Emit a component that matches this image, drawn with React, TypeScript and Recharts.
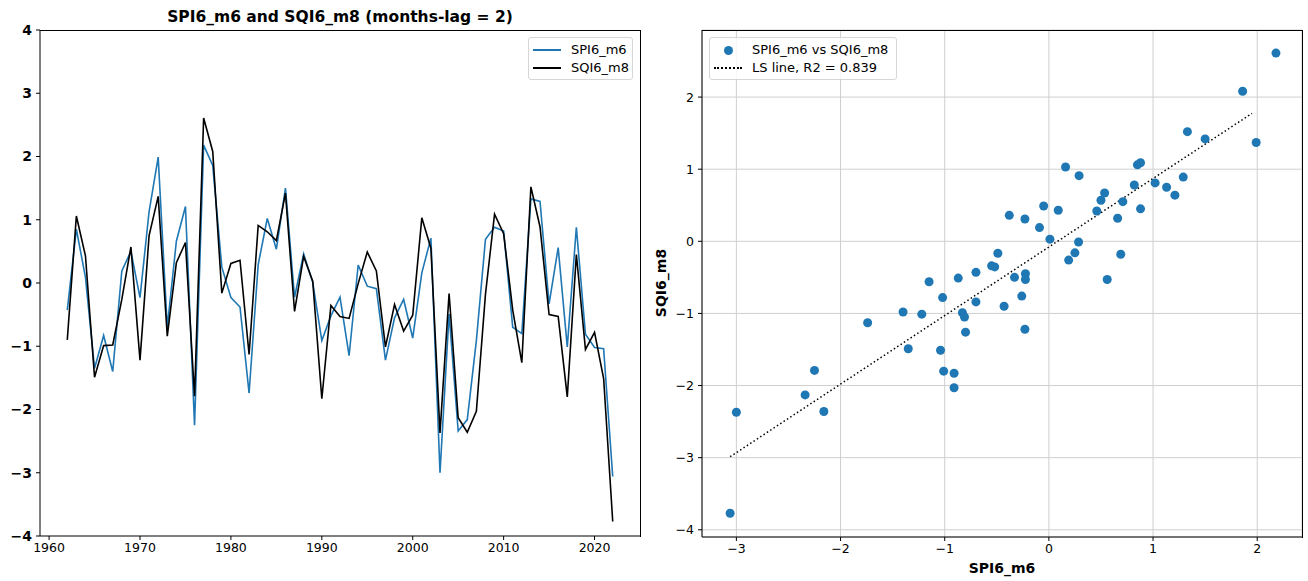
import React from 'react';
import {
  LineChart, Line, ScatterChart, Scatter, XAxis, YAxis, CartesianGrid,
} from 'recharts';

const years = [
  1962, 1963, 1964, 1965, 1966, 1967, 1968, 1969, 1970, 1971,
  1972, 1973, 1974, 1975, 1976, 1977, 1978, 1979, 1980, 1981,
  1982, 1983, 1984, 1985, 1986, 1987, 1988, 1989, 1990, 1991,
  1992, 1993, 1994, 1995, 1996, 1997, 1998, 1999, 2000, 2001,
  2002, 2003, 2004, 2005, 2006, 2007, 2008, 2009, 2010, 2011,
  2012, 2013, 2014, 2015, 2016, 2017, 2018, 2019, 2020, 2021,
  2022,
];

const spi6m6 = [
  -0.43, 0.85, 0.09, -1.35, -0.83, -1.4, 0.19, 0.5, -0.23, 1.13,
  1.99, -0.7, 0.66, 1.21, -2.25, 2.18, 1.86, 0.25, -0.23, -0.38,
  -1.74, 0.29, 1.02, 0.535, 1.5, -0.225, 0.46, 0.01, -0.91, -0.52,
  -0.225, -1.15, 0.285, -0.05, -0.09, -1.22, -0.55, -0.26, -0.87, 0.16,
  0.71, -3.0, -0.49, -2.34, -2.16, -0.91, 0.69, 0.88, 0.82, -0.7,
  -0.8, 1.33, 1.29, -0.33, 0.56, -1.01, 0.88, -0.81, -1.02, -1.04,
  -3.06,
];

const sqi6m8 = [
  -0.9, 1.06, 0.43, -1.49, -0.99, -0.98, -0.26, 0.57, -1.22, 0.75,
  1.37, -0.84, 0.32, 0.64, -1.79, 2.61, 2.08, -0.16, 0.31, 0.36,
  -1.13, 0.91, 0.81, 0.67, 1.42, -0.45, 0.42, 0.03, -1.83, -0.355,
  -0.53, -0.56, -0.01, 0.49, 0.19, -1.01, -0.34, -0.76, -0.51, 1.03,
  0.55, -2.37, -0.165, -2.13, -2.36, -2.03, -0.18, 1.09, 0.78, -0.43,
  -1.26, 1.52, 0.89, -0.5, -0.53, -1.8, 0.45, -1.05, -0.78, -1.51,
  -3.77,
];

const yearTicks = [1960, 1970, 1980, 1990, 2000, 2010, 2020];
const leftYTicks = [-4, -3, -2, -1, 0, 1, 2, 3, 4];
const rightXTicks = [-3, -2, -1, 0, 1, 2];
const rightYTicks = [-4, -3, -2, -1, 0, 1, 2];
const lsX = [-3.06, 1.95];
const r2Label = '0.839';

const BLUE = '#1f77b4';
const FONT = '"DejaVu Sans", sans-serif';

const seriesData = years.map((year, i) => ({ year, spi: spi6m6[i], sqi: sqi6m8[i] }));
const scatterData = years.map((_, i) => ({ x: spi6m6[i], y: sqi6m8[i] }));

// least squares fit of SQI on SPI
const n = spi6m6.length;
const mx = spi6m6.reduce((a, b) => a + b, 0) / n;
const my = sqi6m8.reduce((a, b) => a + b, 0) / n;
let sxy = 0;
let sxx = 0;
for (let i = 0; i < n; i++) {
  sxy += (spi6m6[i] - mx) * (sqi6m8[i] - my);
  sxx += (spi6m6[i] - mx) ** 2;
}
const slope = sxy / sxx;
const intercept = my - slope * mx;
const lsData = lsX.map((x) => ({ x, y: intercept + slope * x }));

const minus = (v: number) => String(v).replace('-', '\u2212');

const LegendBox: React.FC<{ left: number; top: number; width: number; children: React.ReactNode }> = ({ left, top, width, children }) => (
  <div
    style={{
      position: 'absolute', left, top, width, height: 43,
      border: '1px solid #d6d6d6', borderRadius: 3, background: 'rgba(255,255,255,0.8)',
      boxSizing: 'border-box', fontSize: 13, color: '#000',
    }}
  >
    {children}
  </div>
);

const Row: React.FC<{ top: number; marker: React.ReactNode; textLeft: number; label: string }> = ({ top, marker, textLeft, label }) => (
  <div style={{ position: 'absolute', left: 0, top, height: 18, width: '100%' }}>
    {marker}
    <span style={{ position: 'absolute', left: textLeft, top: 1, whiteSpace: 'nowrap' }}>{label}</span>
  </div>
);

// top and right spines of a plot box
const Frame: React.FC<{ left: number; top: number; width: number; height: number }> = ({ left, top, width, height }) => (
  <div
    style={{
      position: 'absolute', left, top, width, height, boxSizing: 'border-box',
      borderTop: '1px solid #000', borderRight: '1px solid #000', pointerEvents: 'none',
    }}
  />
);

const App: React.FC = () => {
  return (
    <div style={{ position: 'absolute', left: 0, top: 0, width: 1308, height: 581, background: '#fff', fontFamily: FONT }}>
      <div style={{ position: 'absolute', left: 40, top: 8, width: 600, textAlign: 'center', fontWeight: 'bold', fontSize: 15.5 }}>
        SPI6_m6 and SQI6_m8 (months-lag = 2)
      </div>

      <div style={{ position: 'absolute', left: 0, top: 0 }}>
        <LineChart width={650} height={581} data={seriesData} margin={{ top: 30, right: 10, bottom: 0, left: 0 }}>
          <XAxis
            dataKey="year" type="number" domain={[1959, 2025]} ticks={yearTicks}
            height={45} tickSize={4} tickMargin={3} stroke="#000"
            tick={{ fill: '#000', fontSize: 12.5, fontFamily: FONT }}
          />
          <YAxis
            type="number" domain={[-4, 4]} ticks={leftYTicks} width={40} tickSize={4} tickMargin={4}
            stroke="#000" tickFormatter={minus}
            tick={{ fill: '#000', fontSize: 14, fontWeight: 'bold', fontFamily: FONT }}
          />
          <Line dataKey="spi" stroke={BLUE} strokeWidth={1.6} dot={false} isAnimationActive={false} />
          <Line dataKey="sqi" stroke="#000" strokeWidth={1.6} dot={false} isAnimationActive={false} />
        </LineChart>
      </div>
      <Frame left={40} top={30} width={601} height={507} />
      <LegendBox left={528} top={37} width={105}>
        <Row top={3} marker={<div style={{ position: 'absolute', left: 4, top: 8, width: 28, height: 2, background: BLUE }} />} textLeft={42} label="SPI6_m6" />
        <Row top={21} marker={<div style={{ position: 'absolute', left: 4, top: 8, width: 28, height: 2, background: '#000' }} />} textLeft={42} label="SQI6_m8" />
      </LegendBox>

      <div style={{ position: 'absolute', left: 650, top: 0 }}>
        <ScatterChart width={658} height={581} margin={{ top: 30, right: 6, bottom: 0, left: 0 }}>
          <CartesianGrid stroke="#cfcfcf" strokeWidth={1} />
          <XAxis
            dataKey="x" type="number" domain={[-3.33, 2.43]} ticks={rightXTicks}
            height={44} tickSize={4} tickMargin={3} stroke="#000" tickFormatter={minus}
            tick={{ fill: '#000', fontSize: 12.5, fontFamily: FONT }}
          />
          <YAxis
            dataKey="y" type="number" domain={[-4.1, 2.93]} ticks={rightYTicks} width={52} tickSize={4} tickMargin={4}
            stroke="#000" tickFormatter={minus}
            tick={{ fill: '#000', fontSize: 12.5, fontFamily: FONT }}
          />
          <Scatter
            data={lsData}
            line={{ stroke: '#000', strokeWidth: 1.5, strokeDasharray: '1.5 2.5' }}
            shape={() => <g />}
            isAnimationActive={false}
          />
          <Scatter
            data={scatterData}
            shape={(p: any) => <circle cx={p.cx} cy={p.cy} r={4.5} fill={BLUE} />}
            isAnimationActive={false}
          />
        </ScatterChart>
      </div>
      <Frame left={702} top={30} width={601} height={508} />
      <LegendBox left={709} top={37} width={188}>
        <Row top={3} marker={<div style={{ position: 'absolute', left: 14, top: 5, width: 9, height: 9, borderRadius: '50%', background: BLUE }} />} textLeft={42} label="SPI6_m6 vs SQI6_m8" />
        <Row top={21} marker={<div style={{ position: 'absolute', left: 4, top: 8, width: 28, height: 0, borderTop: '2px dotted #000' }} />} textLeft={42} label={`LS line, R2 = ${r2Label}`} />
      </LegendBox>

      <div style={{ position: 'absolute', left: 702, top: 560, width: 600, textAlign: 'center', fontWeight: 'bold', fontSize: 14 }}>
        SPI6_m6
      </div>
      <div
        style={{
          position: 'absolute', left: 661, top: 283, fontWeight: 'bold', fontSize: 14, whiteSpace: 'nowrap',
          transform: 'translate(-50%, -50%) rotate(-90deg)',
        }}
      >
        SQI6_m8
      </div>
    </div>
  );
};

export default App;
